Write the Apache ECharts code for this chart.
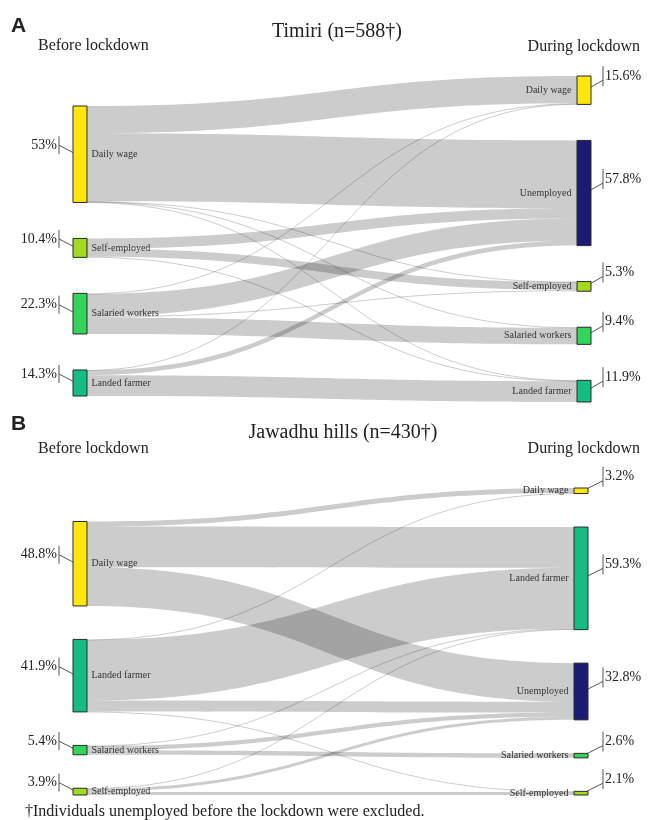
<!DOCTYPE html>
<html>
<head>
<meta charset="utf-8">
<script src="https://cdn.jsdelivr.net/npm/echarts@6/dist/echarts.min.js"></script>
<style>
  html, body { margin: 0; padding: 0; background: #fff; }
  #main { width: 650px; height: 820px; }
</style>
</head>
<body>
<div id="main"></div>
<script>
// ---- panel A: Timiri (n=588) ----
var timiriBefore = ['Daily wage', 'Self-employed', 'Salaried workers', 'Landed farmer'];
var timiriBeforePct = ['53%', '10.4%', '22.3%', '14.3%'];
var timiriDuring = ['Daily wage', 'Unemployed', 'Self-employed', 'Salaried workers', 'Landed farmer'];
var timiriDuringPct = ['15.6%', '57.8%', '5.3%', '9.4%', '11.9%'];
// [before, during, % of respondents]
var timiriFlows = [
  ['Daily wage', 'Daily wage', 15.0],
  ['Daily wage', 'Unemployed', 37.3],
  ['Daily wage', 'Self-employed', 0.2],
  ['Daily wage', 'Salaried workers', 0.3],
  ['Daily wage', 'Landed farmer', 0.2],
  ['Self-employed', 'Unemployed', 5.6],
  ['Self-employed', 'Self-employed', 4.5],
  ['Self-employed', 'Landed farmer', 0.3],
  ['Salaried workers', 'Daily wage', 0.3],
  ['Salaried workers', 'Unemployed', 12.3],
  ['Salaried workers', 'Self-employed', 0.6],
  ['Salaried workers', 'Salaried workers', 9.1],
  ['Landed farmer', 'Daily wage', 0.3],
  ['Landed farmer', 'Unemployed', 2.6],
  ['Landed farmer', 'Landed farmer', 11.4]
];

// ---- panel B: Jawadhu hills (n=430) ----
var jawadhuBefore = ['Daily wage', 'Landed farmer', 'Salaried workers', 'Self-employed'];
var jawadhuBeforePct = ['48.8%', '41.9%', '5.4%', '3.9%'];
var jawadhuDuring = ['Daily wage', 'Landed farmer', 'Unemployed', 'Salaried workers', 'Self-employed'];
var jawadhuDuringPct = ['3.2%', '59.3%', '32.8%', '2.6%', '2.1%'];
var jawadhuFlows = [
  ['Daily wage', 'Daily wage', 2.9],
  ['Daily wage', 'Landed farmer', 23.6],
  ['Daily wage', 'Unemployed', 22.3],
  ['Landed farmer', 'Daily wage', 0.3],
  ['Landed farmer', 'Landed farmer', 35.0],
  ['Landed farmer', 'Unemployed', 6.3],
  ['Landed farmer', 'Self-employed', 0.3],
  ['Salaried workers', 'Landed farmer', 0.4],
  ['Salaried workers', 'Unemployed', 2.4],
  ['Salaried workers', 'Salaried workers', 2.6],
  ['Self-employed', 'Landed farmer', 0.3],
  ['Self-employed', 'Unemployed', 1.8],
  ['Self-employed', 'Self-employed', 1.8]
];

var colors = {
  'Daily wage': '#ffe60d',
  'Self-employed': '#a3d91e',
  'Salaried workers': '#33d45c',
  'Landed farmer': '#14be83',
  'Unemployed': '#1c1b73'
};

var SERIF = '"Liberation Serif", "Times New Roman", serif';
var NODE_W = 14;
var graphics = [];

function sum(a) { return a.reduce(function (s, v) { return s + v; }, 0); }

function buildPanel(before, beforePct, during, duringPct, flows, box) {
  var H = box.height;
  var leftVal = before.map(function (c) {
    return sum(flows.filter(function (f) { return f[0] === c; }).map(function (f) { return f[2]; }));
  });
  var rightVal = during.map(function (c) {
    return sum(flows.filter(function (f) { return f[1] === c; }).map(function (f) { return f[2]; }));
  });
  var ky = Math.min((H - (before.length - 1) * box.gap) / sum(leftVal),
                    (H - (during.length - 1) * box.gap) / sum(rightVal));
  // left column sits near the bottom, right column at the top
  var leftTotal = sum(leftVal) * ky + (before.length - 1) * box.gap;
  var y = H - leftTotal - box.lift;
  var nodes = [];
  before.forEach(function (c, i) {
    var dy = leftVal[i] * ky;
    nodes.push({
      name: 'b:' + c, localY: y / H,
      itemStyle: { color: colors[c] },
      label: { position: 'right', distance: 4 }
    });
    var cy = box.top + y + dy / 2, cx = box.left + NODE_W / 2, tx = box.left - 14;
    graphics.push({ type: 'text', x: tx - 2, y: cy - 9,
      style: { text: beforePct[i], font: '14px ' + SERIF, fill: '#222', align: 'right', verticalAlign: 'middle', textAlign: 'right', textVerticalAlign: 'middle' } });
    graphics.push({ type: 'line', shape: { x1: tx, y1: cy - 18, x2: tx, y2: cy }, style: { stroke: '#555', lineWidth: 1 } });
    graphics.push({ type: 'line', shape: { x1: tx, y1: cy - 9, x2: cx, y2: cy + 2 }, style: { stroke: '#555', lineWidth: 1 } });
    y += dy + box.gap;
  });
  y = 0;
  during.forEach(function (c, i) {
    var dy = rightVal[i] * ky;
    nodes.push({
      name: 'd:' + c, localY: y / H,
      itemStyle: { color: colors[c] },
      label: { position: 'left', distance: 5 }
    });
    var cy = box.top + y + dy / 2, cx = box.left + box.width - NODE_W / 2, tx = box.left + box.width + box.tick;
    graphics.push({ type: 'text', x: tx + 2, y: cy - 14,
      style: { text: duringPct[i], font: '14px ' + SERIF, fill: '#222', align: 'left', verticalAlign: 'middle', textAlign: 'left', textVerticalAlign: 'middle' } });
    graphics.push({ type: 'line', shape: { x1: tx, y1: cy - 24, x2: tx, y2: cy - 4 }, style: { stroke: '#555', lineWidth: 1 } });
    graphics.push({ type: 'line', shape: { x1: cx, y1: cy + 1, x2: tx, y2: cy - 10 }, style: { stroke: '#555', lineWidth: 1 } });
    y += dy + box.gap;
  });
  var links = flows.map(function (f) {
    return { source: 'b:' + f[0], target: 'd:' + f[1], value: f[2] };
  });
  return {
    type: 'sankey',
    left: box.left, top: box.top, width: box.width, height: box.height,
    nodeWidth: NODE_W,
    nodeGap: box.gap,
    layoutIterations: 0,
    draggable: false,
    silent: true,
    emphasis: { disabled: true },
    data: nodes,
    links: links,
    itemStyle: { borderColor: '#2a2a2a', borderWidth: 1 },
    lineStyle: { color: '#000', opacity: 0.2, curveness: 0.5 },
    label: {
      fontFamily: SERIF, fontSize: 10, color: '#333',
      formatter: function (p) { return p.name.slice(2); }
    }
  };
}

var seriesA = buildPanel(timiriBefore, timiriBeforePct, timiriDuring, timiriDuringPct, timiriFlows,
  { left: 73, top: 76, width: 518, height: 326, gap: 36, lift: 6, tick: 12 });
var seriesB = buildPanel(jawadhuBefore, jawadhuBeforePct, jawadhuDuring, jawadhuDuringPct, jawadhuFlows,
  { left: 73, top: 488, width: 515, height: 307, gap: 33.5, lift: 0, tick: 15 });

function txt(s, x, y, font, align) {
  return { type: 'text', x: x, y: y,
    style: { text: s, font: font, fill: '#222', align: align, verticalAlign: 'middle', textAlign: align, textVerticalAlign: 'middle' } };
}
graphics.push(
  txt('A', 11, 26, 'bold 21px "Liberation Sans", Arial, sans-serif', 'left'),
  txt('Timiri (n=588\u2020)', 337, 32, '20px ' + SERIF, 'center'),
  txt('Before lockdown', 38, 46, '16px ' + SERIF, 'left'),
  txt('During lockdown', 640, 47, '16px ' + SERIF, 'right'),
  txt('B', 11, 424, 'bold 21px "Liberation Sans", Arial, sans-serif', 'left'),
  txt('Jawadhu hills (n=430\u2020)', 343, 433, '20px ' + SERIF, 'center'),
  txt('Before lockdown', 38, 449, '16px ' + SERIF, 'left'),
  txt('During lockdown', 640, 449, '16px ' + SERIF, 'right'),
  txt('\u2020Individuals unemployed before the lockdown were excluded.', 25, 812, '16px ' + SERIF, 'left')
);

var chart = echarts.init(document.getElementById('main'));
chart.setOption({
  animation: false,
  backgroundColor: '#fff',
  series: [seriesA, seriesB],
  graphic: { elements: graphics }
});
</script>
</body>
</html>
